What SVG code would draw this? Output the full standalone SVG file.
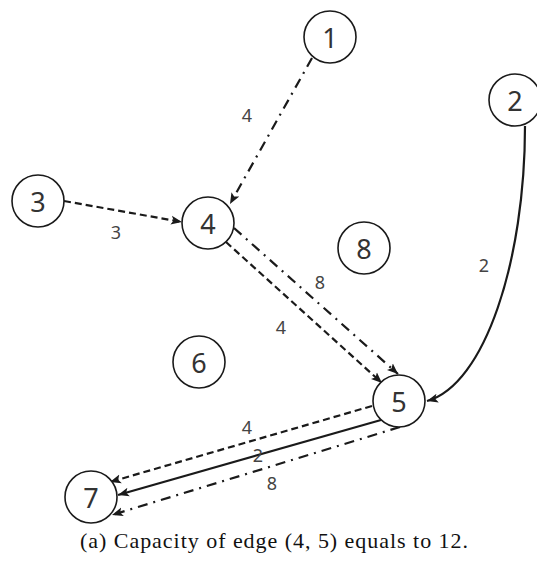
<svg xmlns="http://www.w3.org/2000/svg" width="537" height="563" viewBox="0 0 537 563">
<defs>
<marker id="ah" markerWidth="12" markerHeight="10" refX="11" refY="5" orient="auto" markerUnits="userSpaceOnUse">
<path d="M0,0.5 L11,5 L0,9.5 L2.5,5 Z" fill="#1a1a1a"/>
</marker>
<style>
.node circle{fill:#fff;stroke:#1a1a1a;stroke-width:1.6}
.node text{font-family:"Noto Sans","DejaVu Sans",sans-serif;font-size:27px;fill:#333;text-anchor:middle;dominant-baseline:central}
.e{fill:none;stroke:#1a1a1a;stroke-width:2.2;marker-end:url(#ah)}
.dash{stroke-dasharray:7 4}
.dd{stroke-dasharray:10 6 2 6}
.lbl{font-family:"Noto Sans","DejaVu Sans",sans-serif;font-size:18px;fill:#444;text-anchor:middle;dominant-baseline:central}
.cap{font-family:"Liberation Serif",serif;font-size:22px;fill:#111;text-anchor:middle}
</style>
</defs>
<g id="connectors">
<line class="e dd" x1="312" y1="58" x2="230" y2="204"/>
<line class="e dash" x1="64" y1="201" x2="182" y2="222"/>
<line class="e dash" x1="226" y1="242" x2="382" y2="383"/>
<line class="e dd" x1="234" y1="228" x2="398" y2="374"/>
<path class="e" d="M525,126 C525,260 485,385 427,401"/>
<line class="e dash" x1="372" y1="406" x2="110" y2="482"/>
<line class="e" x1="381" y1="420" x2="118" y2="495"/>
<line class="e dd" x1="400" y1="427" x2="112" y2="515"/>
</g>
<g id="edge-labels">
<text class="lbl" x="247" y="115">4</text>
<text class="lbl" x="116" y="232">3</text>
<text class="lbl" x="320" y="282">8</text>
<text class="lbl" x="281" y="327">4</text>
<text class="lbl" x="484" y="265">2</text>
<text class="lbl" x="247" y="427">4</text>
<text class="lbl" x="258" y="455">2</text>
<text class="lbl" x="272" y="483">8</text>
</g>
<g id="n1" class="node"><circle cx="330" cy="37" r="26"/><text x="330" y="37">1</text></g>
<g id="n2" class="node"><circle cx="515" cy="100" r="26"/><text x="515" y="100">2</text></g>
<g id="n3" class="node"><circle cx="38" cy="201" r="26"/><text x="38" y="201">3</text></g>
<g id="n4" class="node"><circle cx="208" cy="223" r="26"/><text x="208" y="223">4</text></g>
<g id="n8" class="node"><circle cx="364" cy="248" r="26"/><text x="364" y="248">8</text></g>
<g id="n6" class="node"><circle cx="199" cy="362" r="26"/><text x="199" y="362">6</text></g>
<g id="n5" class="node"><circle cx="399" cy="401" r="26"/><text x="399" y="401">5</text></g>
<g id="n7" class="node"><circle cx="91" cy="497" r="26"/><text x="91" y="497">7</text></g>
<text class="cap" x="274" y="548" textLength="388" lengthAdjust="spacing">(a) Capacity of edge (4, 5) equals to 12.</text>
</svg>
